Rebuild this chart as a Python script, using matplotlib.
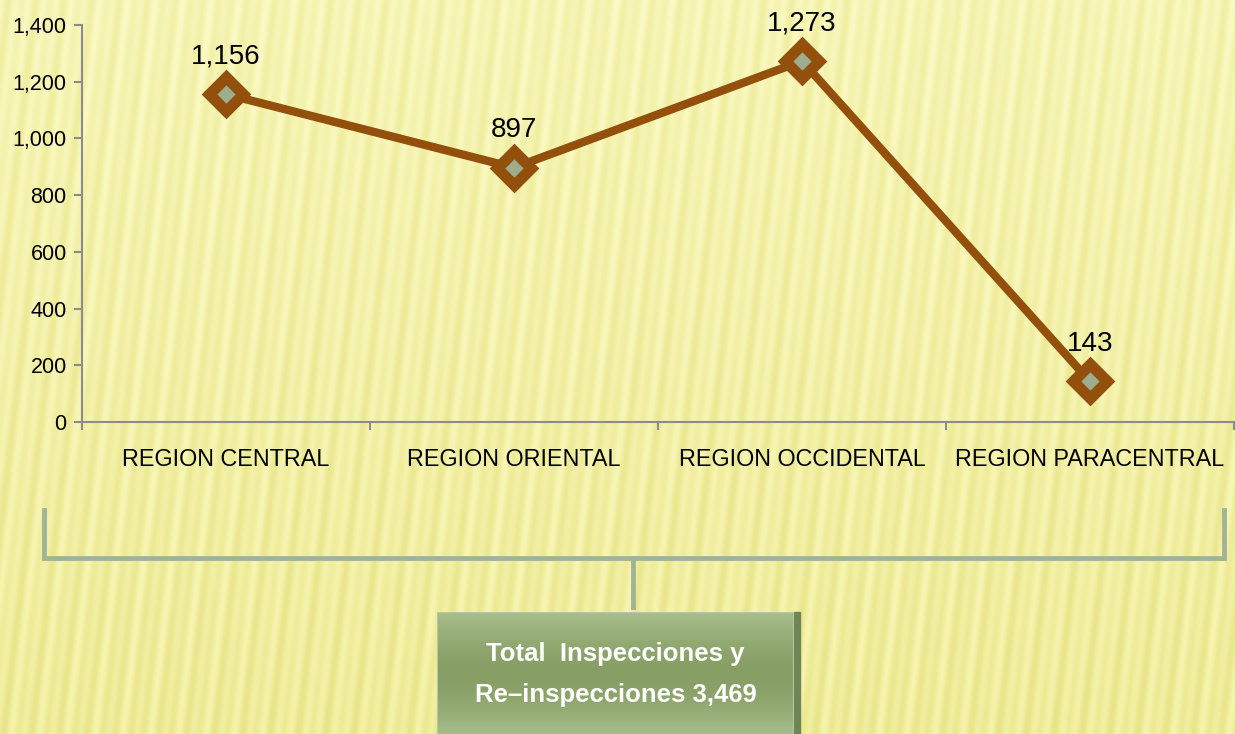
import numpy as np
import matplotlib
matplotlib.use("Agg")
import matplotlib.pyplot as plt
from matplotlib.lines import Line2D
from matplotlib.patches import Rectangle
from matplotlib.ticker import FuncFormatter, MultipleLocator, FixedLocator

categories = ["REGION CENTRAL", "REGION ORIENTAL", "REGION OCCIDENTAL", "REGION PARACENTRAL"]
values = [1156, 897, 1273, 143]
total_label = ["Total  Inspecciones y", "Re\u2013inspecciones 3,469"]

W, H = 1235, 734
fig = plt.figure(figsize=(W / 100, H / 100), dpi=100)
plt.rcParams['font.family'] = ['Liberation Sans', 'DejaVu Sans']

# ---- striped yellow background ----
yy, xx = np.mgrid[0:H, 0:W].astype(float)
u = xx - 0.12 * (H - yy)
s = (0.6 * np.sin(2 * np.pi * u / 14.0)
     + 0.4 * np.sin(2 * np.pi * u / 27.0 + 1.3))
s = (s - s.min()) / (s.max() - s.min())
grad = yy / H
light_top = np.array([251, 250, 198]) / 255.0
dark_top = np.array([241, 239, 163]) / 255.0
light_bot = np.array([246, 244, 172]) / 255.0
dark_bot = np.array([232, 228, 136]) / 255.0
light = light_top[None, None, :] * (1 - grad[..., None]) + light_bot[None, None, :] * grad[..., None]
dark = dark_top[None, None, :] * (1 - grad[..., None]) + dark_bot[None, None, :] * grad[..., None]
t = s[..., None]
img = light * (1 - t) + dark * t
bg = fig.add_axes([0, 0, 1, 1], zorder=-10)
bg.imshow(img, aspect='auto', extent=[0, W, H, 0], interpolation='bilinear')
bg.set_axis_off()

# ---- main axes ----
x0, x1 = 82, 1234
y0, y1 = 422, 25
ax = fig.add_axes([x0 / W, (H - y0) / H, (x1 - x0) / W, (y0 - y1) / H])
ax.set_facecolor('none')
x = np.arange(len(categories))
ax.plot(x, values, color='#934F0C', lw=6, marker='D', markersize=17,
        markerfacecolor='#9DAE8E', markeredgecolor='#934F0C', markeredgewidth=8,
        solid_capstyle='round', zorder=5, clip_on=False)
for xi, v in zip(x, values):
    ax.annotate(f"{v:,}", (xi, v), xytext=(0, 22), textcoords='offset points',
                ha='center', va='baseline', fontsize=20, color='black')

ax.set_xlim(-0.5, len(categories) - 0.5)
ax.set_ylim(0, 1400)
ax.yaxis.set_major_locator(MultipleLocator(200))
ax.yaxis.set_major_formatter(FuncFormatter(lambda v, p: f"{int(v):,}"))
ax.set_xticks(x)
ax.set_xticklabels(categories, fontsize=16.8)
ax.xaxis.set_minor_locator(FixedLocator(np.arange(-0.5, len(categories), 1.0)))
ax.tick_params(axis='x', which='major', length=0, pad=19)
ax.tick_params(axis='x', which='minor', length=6, width=1.5, color='#8C8C8C', direction='out')
ax.tick_params(axis='y', which='major', length=6, width=1.5, color='#8C8C8C', labelsize=15.5, pad=5)
for sp in ['top', 'right']:
    ax.spines[sp].set_visible(False)
for sp in ['left', 'bottom']:
    ax.spines[sp].set_color('#8C8C8C')
    ax.spines[sp].set_linewidth(1.5)

# ---- bracket ----
def fx(px):
    return px / W
def fy(py):
    return (H - py) / H
bc = '#A2B496'
for xs, ys in [([44, 44, 1224, 1224], [510, 558, 558, 510]), ([633, 633], [558, 607])]:
    fig.add_artist(Line2D([fx(v) for v in xs], [fy(v) for v in ys], color=bc, lw=3.5,
                          solid_joinstyle='miter'))

# ---- summary box with gradient ----
bx0, bx1, by0, by1 = 437, 800, 612, 736
fig.add_artist(Rectangle((fx(bx1 - 6), fy(by1)), 6 / W, (by1 - by0) / H,
                         transform=fig.transFigure, color='#6E8656', zorder=3))
box = fig.add_axes([fx(bx0), fy(by1), (bx1 - 6 - bx0) / W, (by1 - by0) / H], zorder=4)
g = np.linspace(-1, 1, 100)
prof = np.abs(g) ** 1.5
top_c = np.array([168, 190, 140]) / 255.0
mid_c = np.array([134, 158, 100]) / 255.0
col = mid_c[None, :] * (1 - prof[:, None]) + top_c[None, :] * prof[:, None]
box.imshow(np.repeat(col[:, None, :], 10, axis=1), aspect='auto', extent=[0, 1, 0, 1])
box.set_xlim(0, 1)
box.set_ylim(0, 1)
box.set_axis_off()
box.add_patch(Rectangle((0, 0), 1, 1, fill=False, edgecolor='#B6C8A2', lw=1.5))
box.text(0.5, 0.66, total_label[0], ha='center', va='center', color='white',
         fontsize=18.5, fontweight='bold')
box.text(0.5, 0.33, total_label[1], ha='center', va='center', color='white',
         fontsize=18.5, fontweight='bold')

fig.savefig('out.png', dpi=100)
